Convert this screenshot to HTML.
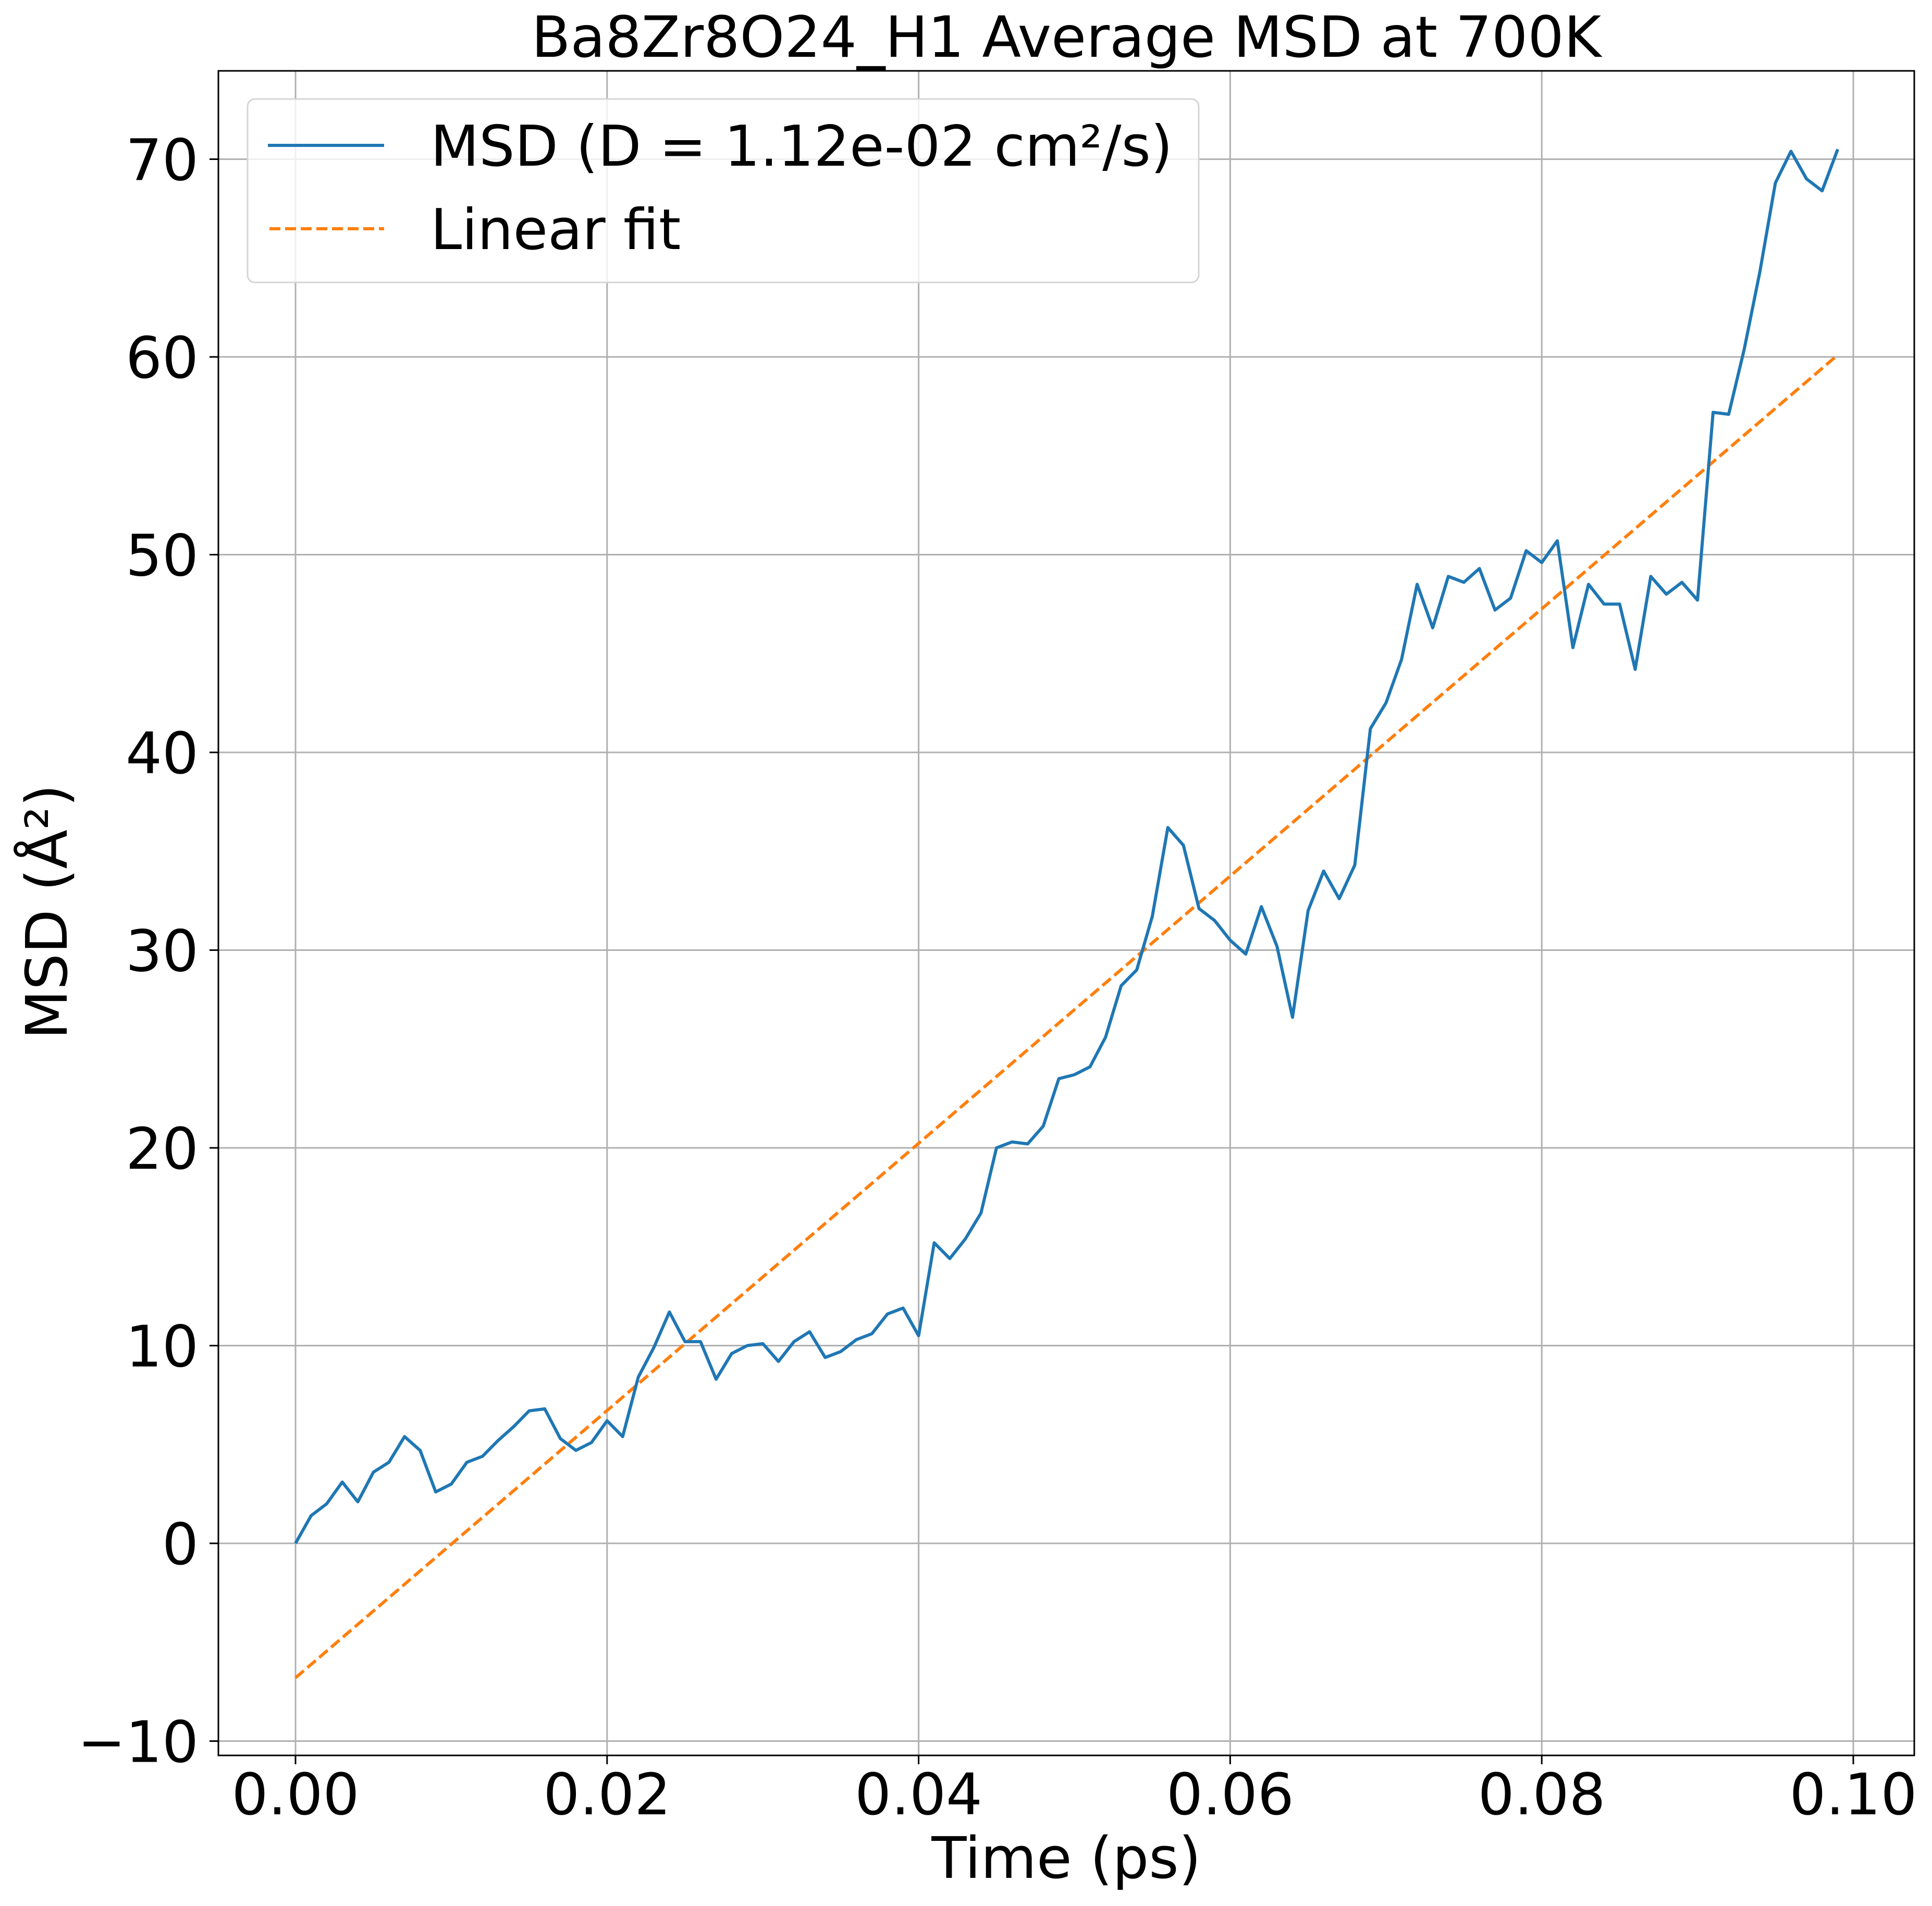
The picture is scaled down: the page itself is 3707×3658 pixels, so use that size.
<!DOCTYPE html>
<html><head><meta charset="utf-8"><style>
html,body{margin:0;padding:0;background:#fff}
svg{display:block}
text{font-family:"DejaVu Sans","Liberation Sans",sans-serif;fill:#000}
</style></head><body>
<svg id="chart" width="3707" height="3658" viewBox="0 0 3707 3658" xmlns="http://www.w3.org/2000/svg">
<rect width="3707" height="3658" fill="#fff"/>
<g id="grid"></g>
<g id="series"></g>
<rect x="419" y="136" width="3254" height="3233" fill="none" stroke="#000" stroke-width="3"/>
<g id="ticks"></g>
<text x="2046" y="109" font-size="109" text-anchor="middle">Ba8Zr8O24_H1 Average MSD at 700K</text>
<text x="2046" y="3604" font-size="110" text-anchor="middle">Time (ps)</text>
<text x="0" y="0" font-size="110" text-anchor="middle" transform="translate(128,1750) rotate(-90)">MSD (Å²)</text>
<g>
<rect x="475" y="190" width="1825" height="352" rx="14" fill="#fff" fill-opacity="0.8" stroke="#d5d5d5" stroke-width="3"/>
<line x1="514" y1="279" x2="737" y2="279" stroke="#1f77b4" stroke-width="6"/>
<text x="826" y="318" font-size="108">MSD (D = 1.12e-02 cm²/s)</text>
<line x1="517" y1="439" x2="737" y2="439" stroke="#ff7f0e" stroke-width="6" stroke-dasharray="21,9"/>
<text x="826" y="478" font-size="108">Linear fit</text>
</g>
</svg>
<script>
const msdValues = [0,1.4,2.0,3.1,2.1,3.6,4.1,5.4,4.7,2.6,3.0,4.1,4.4,5.2,5.9,6.7,6.8,5.3,4.7,5.1,6.2,5.4,8.4,9.9,11.7,10.2,10.2,8.3,9.6,10.0,10.1,9.2,10.2,10.7,9.4,9.7,10.3,10.6,11.6,11.9,10.5,15.2,14.4,15.4,16.7,20.0,20.3,20.2,21.1,23.5,23.7,24.1,25.6,28.2,29.0,31.7,36.2,35.3,32.1,31.5,30.5,29.8,32.2,30.2,26.6,32.0,34.0,32.6,34.3,41.2,42.5,44.7,48.5,46.3,48.9,48.6,49.3,47.2,47.8,50.2,49.6,50.7,45.3,48.5,47.5,47.5,44.2,48.9,48.0,48.6,47.7,57.2,57.1,60.4,64.3,68.8,70.4,69.0,68.4,70.5];
const timeStep = 0.001;
const fitStart = [0, -6.8];
const fitEnd = [0.099, 60.1];
const xTicks = [0,0.02,0.04,0.06,0.08,0.10];
const xTickLabels = ["0.00","0.02","0.04","0.06","0.08","0.10"];
const yTicks = [-10,0,10,20,30,40,50,60,70];
const yTickLabels = ["\u221210","0","10","20","30","40","50","60","70"];

const NS = "http://www.w3.org/2000/svg";
function xs(t){ return 567 + (t/0.1)*(3556-567); }
function ys(v){ return 2962 - v*37.95; }
function mk(tag, attrs, parent){ const e=document.createElementNS(NS,tag); for(const k in attrs) e.setAttribute(k,attrs[k]); parent.appendChild(e); return e; }
const grid=document.getElementById('grid'), ticks=document.getElementById('ticks'), series=document.getElementById('series');
xTicks.forEach((t,i)=>{
  const g=mk('line',{x1:xs(t),x2:xs(t),y1:136,y2:3369,stroke:'#b0b0b0','stroke-width':3},grid);
  
  
  const tk=mk('line',{x1:xs(t),x2:xs(t),y1:3369,y2:3386,stroke:'#000','stroke-width':3},ticks);
  
  
  const tx=mk('text',{x:xs(t),y:3482,'font-size':110,'text-anchor':'middle'},ticks);
  tx.textContent=xTickLabels[i];
  
  
});
yTicks.forEach((v,i)=>{
  const g=mk('line',{x1:419,x2:3673,y1:ys(v),y2:ys(v),stroke:'#b0b0b0','stroke-width':3},grid);
  
  
  const tk=mk('line',{x1:402,x2:419,y1:ys(v),y2:ys(v),stroke:'#000','stroke-width':3},ticks);
  
  
  const tx=mk('text',{x:381,y:ys(v)+40,'font-size':110,'text-anchor':'end'},ticks);
  tx.textContent=yTickLabels[i];
  
  
});
const pts=msdValues.map((v,i)=>xs(i*timeStep).toFixed(1)+','+ys(v).toFixed(1)).join(' ');
const fit=mk('line',{x1:xs(fitStart[0]),y1:ys(fitStart[1]),x2:xs(fitEnd[0]),y2:ys(fitEnd[1]),stroke:'#ff7f0e','stroke-width':6,'stroke-dasharray':'21,9'},series);


const pl=mk('polyline',{points:pts,fill:'none',stroke:'#1f77b4','stroke-width':6,'stroke-linejoin':'round'},series);


</script>
</body></html>
